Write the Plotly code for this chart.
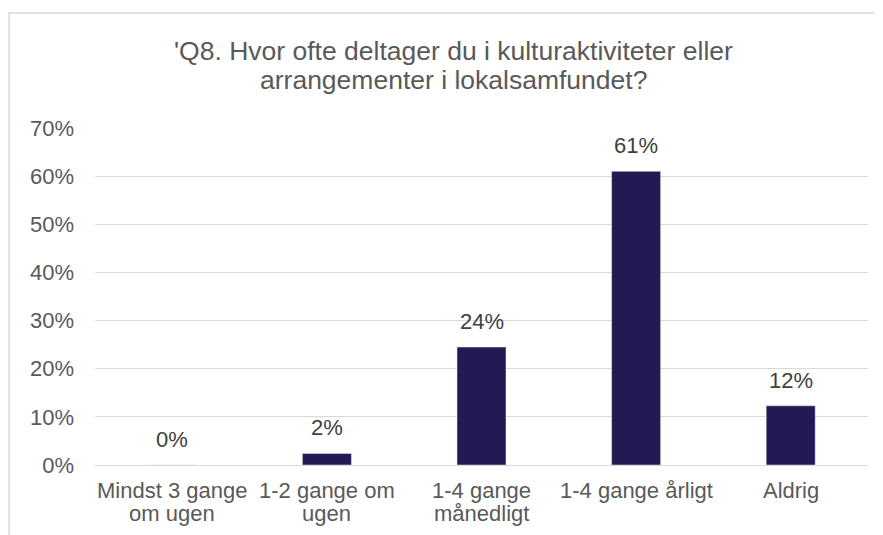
import plotly.graph_objects as go

categories = ["Mindst 3 gange<br>om ugen", "1-2 gange om<br>ugen", "1-4 gange<br>månedligt", "1-4 gange årligt", "Aldrig"]
values = [0.0, 0.024, 0.245, 0.61, 0.123]
labels = ["0%", "2%", "24%", "61%", "12%"]
y_ticks = [0, 0.1, 0.2, 0.3, 0.4, 0.5, 0.6, 0.7]
y_tick_labels = ["0%", "10%", "20%", "30%", "40%", "50%", "60%", "70%"]
title_lines = ["'Q8. Hvor ofte deltager du i kulturaktiviteter eller",
               "arrangementer i lokalsamfundet?"]

W, H = 883, 535
ml, mr, mt, mb = 87, 23, 120, 78
pw = W - ml - mr
ph = H - mt - mb

fig = go.Figure()
fig.add_trace(go.Bar(
    x=categories, y=values, marker_color="#221a52", width=0.317,
    hoverinfo="skip",
))

# data labels
for c, v, t in zip(categories, values, labels):
    fig.add_annotation(x=c, y=v, text=t, showarrow=False, yanchor="bottom",
                       yshift=11, font=dict(size=22, color="#404040"))

# category labels (tight line spacing)
for c in categories:
    for i, line in enumerate(c.split("<br>")):
        fig.add_annotation(x=c, y=0, text=line, showarrow=False, yanchor="middle",
                           yshift=-(25 + i * 23), font=dict(size=22, color="#595959"))

# title (tight line spacing)
for i, line in enumerate(title_lines):
    ypix = 43 + i * 28.5  # from top of figure
    fig.add_annotation(xref="paper", yref="paper",
                       x=(445 - ml) / pw, y=(H - mb - ypix) / ph,
                       text=line, showarrow=False, xanchor="center", yanchor="middle",
                       font=dict(size=26.5, color="#595959"))

# chart border
fig.add_shape(type="rect", xref="paper", yref="paper",
              x0=(1 - ml) / pw, x1=1.2, y0=-0.5, y1=(H - mb - 5) / ph,
              line=dict(color="#d9d9d9", width=1.5), layer="below")

fig.update_layout(
    width=W, height=H,
    margin=dict(l=ml, r=mr, t=mt, b=mb),
    paper_bgcolor="white", plot_bgcolor="white",
    font=dict(family="Liberation Sans, Arial, sans-serif", size=22, color="#595959"),
    showlegend=False,
    bargap=0.683,
)
fig.update_yaxes(range=[0, 0.7], tickvals=y_ticks, ticktext=y_tick_labels,
                 showgrid=True, gridcolor="#d9d9d9", gridwidth=1,
                 zeroline=True, zerolinecolor="#d9d9d9", zerolinewidth=1,
                 showline=False, ticks="", ticklabelstandoff=20,
                 tickfont=dict(size=22, color="#595959"))
fig.update_xaxes(showgrid=False, showline=False, ticks="", showticklabels=False)

fig.write_html("out.html")
